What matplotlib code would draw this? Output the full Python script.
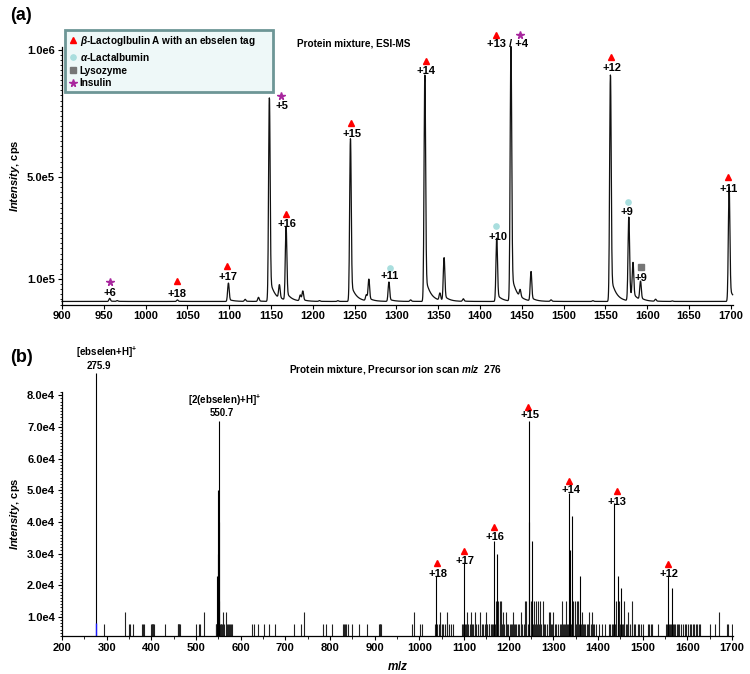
import numpy as np
import matplotlib
matplotlib.use('Agg')
import matplotlib.pyplot as plt
from matplotlib.lines import Line2D
from matplotlib.ticker import MultipleLocator, FixedLocator

plt.rcParams['font.family'] = ['Liberation Sans', 'DejaVu Sans']
plt.rcParams['font.weight'] = 'bold'
plt.rcParams['mathtext.fontset'] = 'custom'
plt.rcParams['mathtext.rm'] = 'Liberation Sans:bold'
plt.rcParams['mathtext.it'] = 'Liberation Sans:italic:bold'
plt.rcParams['mathtext.bf'] = 'Liberation Sans:bold'

# ---------------- (a) ESI-MS: peak list (m/z, intensity in cps) ----------------
esi_mz = [957, 966, 1038, 1099, 1119, 1135, 1148, 1160, 1168, 1185, 1188, 1208,
          1230, 1245, 1264, 1267, 1291, 1317, 1334, 1352, 1357, 1380, 1420, 1437,
          1448, 1461, 1485, 1535, 1556, 1578, 1583, 1592, 1610, 1630, 1698]
esi_int = [2.4e4, 1.5e4, 1.8e4, 8.4e4, 2.0e4, 2.8e4, 8.1e5, 6.5e4, 3.0e5, 3.5e4, 5.0e4, 1.5e4,
           1.5e4, 6.5e5, 3.5e4, 9.6e4, 8.8e4, 1.8e4, 9.0e5, 4.0e4, 1.8e5, 2.2e4, 2.6e5, 1.01e6,
           4.0e4, 1.27e5, 1.8e4, 1.5e4, 9.0e5, 3.4e5, 1.47e5, 8.4e4, 2.0e4, 1.4e4, 4.6e5]
esi_baseline = 1.2e4

# charge-state labels in (a)
a_lab_text = ['+6', '+18', '+17', '+5', '+16', '+15', '+11', '+14', '+10',
              '+13 / +4', '+12', '+9', '+9', '+11']
a_lab_mz = [957, 1038, 1099, 1162.5, 1169, 1247, 1292, 1335.7, 1421,
            1433, 1557.5, 1576, 1592.5, 1697]
a_lab_int = [4.5e4, 4.1e4, 1.08e5, 7.8e5, 3.16e5, 6.7e5, 1.12e5, 9.16e5, 2.65e5,
             1.02e6, 9.27e5, 3.63e5, 1.04e5, 4.53e5]

# protein symbols in (a)
a_mark_kind = ['ins', 'blg', 'blg', 'ins', 'blg', 'blg', 'lac', 'blg', 'lac',
               'blg', 'ins', 'blg', 'lac', 'lys', 'blg']
a_mark_mz = [957, 1038, 1097.5, 1162.5, 1167.6, 1245.3, 1291.9, 1334.9, 1419.3,
             1419.7, 1448.4, 1556.7, 1577.4, 1593, 1696.9]
a_mark_int = [8.8e4, 9.2e4, 1.51e5, 8.19e5, 3.55e5, 7.13e5, 1.44e5, 9.56e5, 3.08e5,
              1.057e6, 1.057e6, 9.7e5, 4.03e5, 1.47e5, 5.01e5]

# ---------------- (b) precursor ion scan m/z 276: sticks ----------------
big_mz = [275.9, 547, 548.5, 549.5, 550.7, 551.5, 552.5,
          1038, 1099, 1168, 1173, 1245, 1246, 1253, 1335, 1337, 1341, 1359,
          1437, 1444, 1452, 1556, 1565]
big_int = [8.7e4, 2.3e4, 3.0e4, 5.0e4, 7.2e4, 4.0e4, 1.5e4,
           2.3e4, 2.7e4, 3.4e4, 3.0e4, 4.0e4, 7.2e4, 3.4e4, 4.9e4, 3.1e4, 4.2e4, 2.3e4,
           4.6e4, 2.3e4, 1.9e4, 2.3e4, 1.9e4]

mid15_mz = [1172, 1176, 1180, 1184, 1236, 1240, 1250, 1257, 1262, 1266, 1270, 1276,
            1319, 1328, 1345, 1349, 1352, 1355, 1440, 1448, 1459, 1477]
mid15_int = 1.5e4

mid11_mz = [341, 518, 561, 568, 742, 987, 1046, 1061, 1107, 1115, 1125, 1135, 1149,
            1188, 1195, 1210, 1228, 1290, 1293, 1300, 1364, 1379, 1386, 1468, 1672]
mid11_int = 1.15e4

noise_mz = [294, 350, 353, 360, 378, 381, 384, 400, 401, 402, 403, 404, 406, 430,
            459, 460, 461, 463, 464, 500, 506, 509, 544, 545, 546, 553, 555, 556,
            558, 563, 570, 572, 574, 576, 578, 580, 625, 630, 638, 653, 664, 676,
            720, 735, 785, 791, 804, 829, 831, 833, 835, 841, 849, 864, 882, 909,
            911, 912, 915, 983, 1002, 1007, 1035, 1040, 1043, 1047, 1050, 1054,
            1058, 1062, 1066, 1070, 1076, 1095, 1098, 1102, 1104, 1106, 1110, 1113,
            1117, 1120, 1124, 1128, 1131, 1135, 1140, 1143, 1147, 1150, 1152, 1155,
            1157, 1160, 1162, 1165, 1167, 1170, 1172, 1175, 1177, 1180, 1183, 1185,
            1188, 1190, 1193, 1196, 1199, 1202, 1205, 1208, 1211, 1214, 1217, 1221,
            1224, 1228, 1231, 1234, 1237, 1240, 1243, 1246, 1249, 1252, 1255, 1258,
            1261, 1264, 1267, 1270, 1273, 1276, 1279, 1282, 1286, 1290, 1294, 1298,
            1303, 1307, 1311, 1314, 1318, 1321, 1324, 1327, 1330, 1333, 1336, 1339,
            1342, 1345, 1348, 1351, 1354, 1357, 1360, 1363, 1366, 1369, 1372, 1375,
            1378, 1381, 1384, 1388, 1392, 1396, 1403, 1408, 1416, 1424, 1427, 1432,
            1434, 1436, 1439, 1441, 1444, 1447, 1450, 1453, 1456, 1459, 1462, 1465,
            1468, 1471, 1476, 1480, 1484, 1489, 1493, 1497, 1501, 1512, 1515, 1519,
            1521, 1535, 1553, 1555, 1558, 1561, 1564, 1567, 1570, 1573, 1576, 1579,
            1582, 1586, 1591, 1594, 1597, 1601, 1605, 1608, 1612, 1615, 1619, 1622,
            1626, 1629, 1651, 1662, 1688, 1691, 1700]
noise_int = 7.8e3

# low blue stick under the ebselen ion
blue_mz = 276
blue_int = 8.0e3

b_lab_text = ['+18', '+17', '+16', '+15', '+14', '+13', '+12']
b_lab_mz = [1042, 1102, 1170, 1248, 1340, 1443, 1559]
b_lab_int = [2.37e4, 2.78e4, 3.52e4, 7.36e4, 5.02e4, 4.64e4, 2.37e4]
b_mark_mz = [1039, 1100.3, 1167.5, 1244.4, 1336, 1442.2, 1557.9]
b_mark_int = [2.71e4, 3.09e4, 3.83e4, 7.64e4, 5.30e4, 4.96e4, 2.68e4]

styles = {
    'blg': dict(marker='^', color='#ff0000', ms=5),
    'lac': dict(marker='o', color='#a9dede', ms=3.8),
    'lys': dict(marker='s', color='#767676', ms=3.8),
    'ins': dict(marker='*', color='#a8279e', ms=5.5),
}
legend_names = {
    'blg': r'$\it{\beta}$-Lactoglbulin A with an ebselen tag',
    'lac': r'$\it{\alpha}$-Lactalbumin',
    'lys': 'Lysozyme',
    'ins': 'Insulin',
}

fig = plt.figure(figsize=(7.5, 6.74), dpi=100)
ax1 = fig.add_axes([0.0827, 0.5482, 0.895, 0.3821])
ax2 = fig.add_axes([0.0827, 0.0564, 0.895, 0.362])

# profile spectrum for (a)
x = np.arange(900, 1702.5, 0.25)
y = np.full_like(x, esi_baseline)
for m, h in zip(esi_mz, esi_int):
    a = h - esi_baseline
    d = x - m
    y += a * np.exp(-0.5 * (d / 0.9) ** 2)
    tail = np.where(d > 0, np.exp(-d / 6.0) * (1 - np.exp(-d / 0.8)), 0)
    y += 0.12 * a * tail
ax1.plot(x, y, color='#111111', lw=0.9, clip_on=False)

ax1.set_xlim(900, 1703)
ax1.set_ylim(0, 1.01e6)
ax1.xaxis.set_major_locator(MultipleLocator(50))
ax1.yaxis.set_major_locator(FixedLocator([1e5, 5e5, 1e6]))
ax1.set_yticklabels(['1.0e5', '5.0e5', '1.0e6'])
ax1.yaxis.set_minor_locator(MultipleLocator(2e4))

for t, m, v in zip(a_lab_text, a_lab_mz, a_lab_int):
    ax1.text(m, v, t, ha='center', va='center', fontsize=8, fontweight='bold', clip_on=False)
for k, m, v in zip(a_mark_kind, a_mark_mz, a_mark_int):
    ax1.plot(m, v, ls='none', clip_on=False, **styles[k])

handles = [Line2D([], [], ls='none', **styles[k]) for k in ['blg', 'lac', 'lys', 'ins']]
leg = ax1.legend(handles, [legend_names[k] for k in ['blg', 'lac', 'lys', 'ins']],
                 loc='upper left', bbox_to_anchor=(0.0867, 0.8665, 0.2773, 0.089),
                 bbox_transform=fig.transFigure, mode='expand', fontsize=7.2,
                 frameon=True, fancybox=False, handlelength=0.7, handletextpad=0.35,
                 labelspacing=0.28, borderpad=0.4, borderaxespad=0)
leg.get_frame().set_facecolor('#eef8f8')
leg.get_frame().set_edgecolor('#6d9696')
leg.get_frame().set_linewidth(2)
leg.get_frame().set_alpha(1)

fig.text(0.472, 0.935, 'Protein mixture, ESI-MS', ha='center', va='center',
         fontsize=7.2, fontweight='bold')

# sticks for (b)
ax2.set_xlim(200, 1703)
ax2.set_ylim(4000, 81000)
base = ax2.get_ylim()[0]
ax2.vlines(noise_mz, base, noise_int, colors='#222222', lw=0.8)
ax2.vlines(mid11_mz, base, mid11_int, colors='#222222', lw=0.8)
ax2.vlines(mid15_mz, base, mid15_int, colors='#222222', lw=0.8)
ax2.vlines(big_mz, base, big_int, colors='black', lw=0.8, clip_on=False)
ax2.vlines([blue_mz], base, [blue_int], colors='#1a1aff', lw=1.0)

ax2.xaxis.set_major_locator(MultipleLocator(100))
ax2.xaxis.set_minor_locator(MultipleLocator(50))
ax2.yaxis.set_major_locator(FixedLocator([1e4, 2e4, 3e4, 4e4, 5e4, 6e4, 7e4, 8e4]))
ax2.set_yticklabels(['1.0e4', '2.0e4', '3.0e4', '4.0e4', '5.0e4', '6.0e4', '7.0e4', '8.0e4'])
ax2.yaxis.set_minor_locator(MultipleLocator(1e3))

for t, m, v in zip(b_lab_text, b_lab_mz, b_lab_int):
    ax2.text(m, v, t, ha='center', va='center', fontsize=8, fontweight='bold')
ax2.plot(b_mark_mz, b_mark_int, ls='none', clip_on=False, **styles['blg'])

ax2.text(301, 93600, r'[ebselen+H]$^{+}$', ha='center', va='center', fontsize=7,
         fontweight='bold', clip_on=False)
ax2.text(282, 89300, '275.9', ha='center', va='center', fontsize=7,
         fontweight='bold', clip_on=False)
ax2.text(563, 78500, r'[2(ebselen)+H]$^{+}$', ha='center', va='center', fontsize=7,
         fontweight='bold')
ax2.text(558, 74300, '550.7', ha='center', va='center', fontsize=7, fontweight='bold')

fig.text(0.527, 0.452, r'Protein mixture, Precursor ion scan $\it{m/z}$  276',
         ha='center', va='center', fontsize=7.2, fontweight='bold')

for ax in (ax1, ax2):
    ax.spines['top'].set_visible(False)
    ax.spines['right'].set_visible(False)
    ax.spines['left'].set_linewidth(0.9)
    ax.spines['bottom'].set_linewidth(0.9)
    ax.tick_params(axis='both', which='major', direction='out', length=3, width=0.8,
                   labelsize=8, pad=2)
    ax.tick_params(axis='both', which='minor', direction='out', length=1.8, width=0.6)
    for lab in ax.get_xticklabels() + ax.get_yticklabels():
        lab.set_fontweight('bold')
    ax.set_ylabel(r'$\it{Intensity}$, cps', fontsize=8, fontweight='bold')
    ax.yaxis.set_label_coords(-0.06, 0.5)

ax2.set_xlabel(r'$\it{m/z}$', fontsize=8.5, labelpad=5)

fig.text(0.013, 0.977, '(a)', fontsize=13, fontweight='bold', va='center')
fig.text(0.013, 0.47, '(b)', fontsize=13, fontweight='bold', va='center')

fig.savefig('out.png', dpi=100)
